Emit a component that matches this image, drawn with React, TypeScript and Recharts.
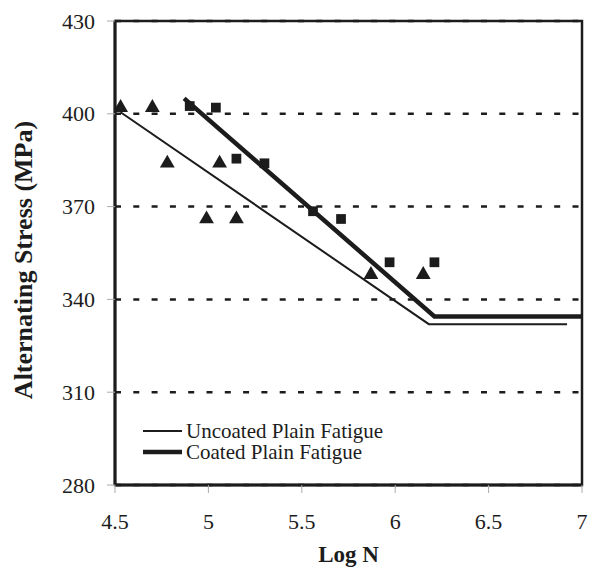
import {
  ComposedChart,
  CartesianGrid,
  Legend,
  Line,
  ReferenceArea,
  Scatter,
  XAxis,
  YAxis,
  ZAxis,
} from "recharts";

// S-N fitted curves (Log N vs alternating stress, MPa)
const uncoatedCurve = [
  { x: 4.53, y: 400.5 },
  { x: 6.18, y: 332 },
  { x: 6.92, y: 332 },
];
const coatedCurve = [
  { x: 4.87, y: 405 },
  { x: 6.21, y: 334.5 },
  { x: 7.0, y: 334.5 },
];

// test points
const uncoatedPoints = [
  { x: 4.53, y: 402 },
  { x: 4.7, y: 402 },
  { x: 4.78, y: 384 },
  { x: 4.99, y: 366 },
  { x: 5.06, y: 384 },
  { x: 5.15, y: 366 },
  { x: 5.87, y: 348 },
  { x: 6.15, y: 348 },
];
const coatedPoints = [
  { x: 4.9, y: 402.5 },
  { x: 5.04, y: 402 },
  { x: 5.15, y: 385.5 },
  { x: 5.3, y: 384 },
  { x: 5.56, y: 368.5 },
  { x: 5.71, y: 366 },
  { x: 5.97, y: 352 },
  { x: 6.21, y: 352 },
];

const xTicks = [4.5, 5, 5.5, 6, 6.5, 7];
const yTicks = [280, 310, 340, 370, 400, 430];

const legendItems = [
  { name: "Uncoated Plain Fatigue", width: 2 },
  { name: "Coated Plain Fatigue", width: 4.5 },
];

const FONT = "'Liberation Serif', 'Times New Roman', serif";
const INK = "#1c1c1c";
const tickStyle = { fontFamily: FONT, fontSize: 22, fill: INK };

const renderXTick = (p: any) => (
  <text x={p.x} y={p.y} dy={16} textAnchor="middle" style={tickStyle}>
    {String(p.payload.value)}
  </text>
);

const renderYTick = (p: any) => (
  <text x={p.x} y={p.y} dy={7.5} textAnchor="end" style={tickStyle}>
    {String(p.payload.value)}
  </text>
);

function LegendBox() {
  return (
    <div style={{ fontFamily: FONT, fontSize: 21, color: INK, lineHeight: "20px" }}>
      {legendItems.map((it) => (
        <div key={it.name} style={{ display: "flex", alignItems: "center", height: 20.5 }}>
          <svg width={44} height={20}>
            <line x1={2} x2={41} y1={10} y2={10} stroke={INK} strokeWidth={it.width} />
          </svg>
          <span style={{ marginLeft: 1, whiteSpace: "nowrap" }}>{it.name}</span>
        </div>
      ))}
    </div>
  );
}

export default function App() {
  return (
    <div
      style={{
        position: "absolute",
        left: 0,
        top: 0,
        background: "#fff",
        fontFamily: FONT,
      }}
    >
      <ComposedChart
        width={589}
        height={567}
        margin={{ top: 21, right: 7, bottom: 0, left: 0 }}
      >
        <CartesianGrid
          horizontal
          vertical={false}
          stroke={INK}
          strokeWidth={2.5}
          strokeDasharray="6 12.3"
        />
        <XAxis
          type="number"
          dataKey="x"
          domain={[4.5, 7]}
          ticks={xTicks}
          height={82}
          allowDataOverflow
          axisLine={{ stroke: INK, strokeWidth: 3 }}
          tickLine={{ stroke: "#aaa" }}
          tickSize={8}
          tickMargin={20}
          tick={renderXTick}
          label={{
            value: "Log N",
            position: "insideBottom",
            offset: 5,
            fill: INK,
            fontSize: 23,
            fontWeight: "bold",
            fontFamily: FONT,
          }}
        />
        <YAxis
          type="number"
          dataKey="y"
          domain={[280, 430]}
          ticks={yTicks}
          width={115}
          allowDataOverflow
          axisLine={{ stroke: INK, strokeWidth: 3 }}
          tickLine={{ stroke: "#aaa" }}
          tickSize={8}
          tickMargin={12}
          tick={renderYTick}
          label={{
            value: "Alternating Stress (MPa)",
            angle: -90,
            position: "insideLeft",
            offset: 23,
            dy: 7,
            style: { textAnchor: "middle" },
            fill: INK,
            fontSize: 26,
            fontWeight: "bold",
            fontFamily: FONT,
          }}
        />
        <ZAxis type="number" range={[95, 95]} />
        <ReferenceArea
          x1={4.5}
          x2={7}
          y1={280}
          y2={430}
          fill="none"
          stroke={INK}
          strokeWidth={2.5}
        />
        <Line
          data={uncoatedCurve}
          dataKey="y"
          name="Uncoated Plain Fatigue"
          type="linear"
          stroke={INK}
          strokeWidth={2}
          dot={false}
          isAnimationActive={false}
        />
        <Line
          data={coatedCurve}
          dataKey="y"
          name="Coated Plain Fatigue"
          type="linear"
          stroke={INK}
          strokeWidth={4.5}
          dot={false}
          isAnimationActive={false}
        />
        <Scatter
          data={uncoatedPoints}
          shape="triangle"
          fill={INK}
          legendType="none"
          isAnimationActive={false}
        />
        <Scatter
          data={coatedPoints}
          shape="square"
          fill={INK}
          legendType="none"
          isAnimationActive={false}
        />
        <Legend
          layout="vertical"
          align="center"
          verticalAlign="middle"
          content={() => <LegendBox />}
          wrapperStyle={{ left: 141, top: 421, width: "auto", height: "auto" }}
        />
      </ComposedChart>
    </div>
  );
}
